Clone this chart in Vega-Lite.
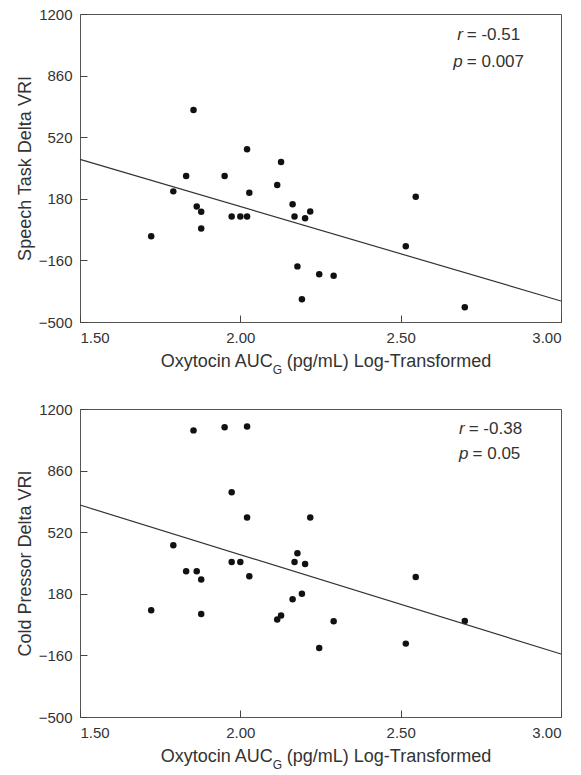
{
  "$schema": "https://vega.github.io/schema/vega-lite/v6.json",
  "background": "white",
  "padding": {"left": 15, "top": 6, "right": 5, "bottom": 5},
  "config": {
    "font": "Liberation Sans",
    "view": {"stroke": "#555", "strokeWidth": 1},
    "axis": {
      "grid": false, "domain": false, "tickSize": -7, "tickColor": "#444", "tickWidth": 1,
      "labelFontSize": 15, "labelColor": "#333", "labelFont": "Liberation Sans",
      "titleFontSize": 18, "titleFontWeight": "normal", "titleColor": "#333", "titleFont": "Liberation Sans"
    },
    "concat": {"spacing": 24}
  },
  "datasets": {
    "speech": [
      {"oxytocin": 1.722, "vri": -27}, {"oxytocin": 1.791, "vri": 221}, {"oxytocin": 1.831, "vri": 306},
      {"oxytocin": 1.854, "vri": 670}, {"oxytocin": 1.864, "vri": 138}, {"oxytocin": 1.878, "vri": 108},
      {"oxytocin": 1.878, "vri": 16}, {"oxytocin": 1.951, "vri": 306}, {"oxytocin": 1.973, "vri": 82},
      {"oxytocin": 2.0, "vri": 82}, {"oxytocin": 2.021, "vri": 82}, {"oxytocin": 2.021, "vri": 454},
      {"oxytocin": 2.028, "vri": 213}, {"oxytocin": 2.115, "vri": 256}, {"oxytocin": 2.127, "vri": 383},
      {"oxytocin": 2.163, "vri": 150}, {"oxytocin": 2.169, "vri": 82}, {"oxytocin": 2.202, "vri": 73},
      {"oxytocin": 2.218, "vri": 110}, {"oxytocin": 2.178, "vri": -193}, {"oxytocin": 2.246, "vri": -236},
      {"oxytocin": 2.291, "vri": -245}, {"oxytocin": 2.192, "vri": -374}, {"oxytocin": 2.516, "vri": -82},
      {"oxytocin": 2.547, "vri": 191}, {"oxytocin": 2.7, "vri": -419}
    ],
    "cold": [
      {"oxytocin": 1.722, "vri": 89}, {"oxytocin": 1.791, "vri": 448}, {"oxytocin": 1.831, "vri": 305},
      {"oxytocin": 1.854, "vri": 1082}, {"oxytocin": 1.864, "vri": 305}, {"oxytocin": 1.878, "vri": 259},
      {"oxytocin": 1.878, "vri": 69}, {"oxytocin": 1.951, "vri": 1099}, {"oxytocin": 1.973, "vri": 741},
      {"oxytocin": 1.973, "vri": 356}, {"oxytocin": 2.0, "vri": 356}, {"oxytocin": 2.021, "vri": 1104},
      {"oxytocin": 2.021, "vri": 601}, {"oxytocin": 2.028, "vri": 277}, {"oxytocin": 2.115, "vri": 38},
      {"oxytocin": 2.127, "vri": 60}, {"oxytocin": 2.163, "vri": 150}, {"oxytocin": 2.169, "vri": 356},
      {"oxytocin": 2.178, "vri": 404}, {"oxytocin": 2.192, "vri": 180}, {"oxytocin": 2.202, "vri": 345},
      {"oxytocin": 2.218, "vri": 601}, {"oxytocin": 2.246, "vri": -119}, {"oxytocin": 2.291, "vri": 28},
      {"oxytocin": 2.516, "vri": -95}, {"oxytocin": 2.547, "vri": 273}, {"oxytocin": 2.7, "vri": 30}
    ],
    "speechFit": [{"oxytocin": 1.5, "vri": 398}, {"oxytocin": 3.0, "vri": -384}],
    "coldFit": [{"oxytocin": 1.5, "vri": 670}, {"oxytocin": 3.0, "vri": -152}],
    "speechStats": [{"sym": "r", "rest": "= -0.51"}, {"sym": "p", "rest": "= 0.007"}],
    "coldStats": [{"sym": "r", "rest": "= -0.38"}, {"sym": "p", "rest": "= 0.05"}],
    "sub": [{"sub": "G"}]
  },
  "vconcat": [
    {
      "width": 481,
      "height": 308,
      "layer": [
        {
          "data": {"name": "speech"},
          "mark": {"type": "circle", "size": 42, "color": "#111", "opacity": 1},
          "encoding": {
            "x": {"field": "oxytocin", "type": "quantitative",
              "scale": {"domain": [1.5, 3], "nice": false, "zero": false},
              "axis": {"values": [1.5, 2, 2.5, 3], "format": ".2f", "title": "Oxytocin AUC\u2002 (pg/mL) Log-Transformed", "labelPadding": 15, "titlePadding": 7, "titleX": 245.5}},
            "y": {"field": "vri", "type": "quantitative",
              "scale": {"domain": [-500, 1200], "nice": false, "zero": false},
              "axis": {"values": [-500, -160, 180, 520, 860, 1200], "format": "d", "title": "Speech Task Delta VRI", "labelPadding": 15, "titlePadding": 4}}
          }
        },
        {
          "data": {"name": "speechFit"},
          "mark": {"type": "line", "color": "#333", "strokeWidth": 1.2},
          "encoding": {
            "x": {"field": "oxytocin", "type": "quantitative"},
            "y": {"field": "vri", "type": "quantitative"}
          }
        },
        {
          "data": {"name": "speechStats"},
          "transform": [{"filter": "datum.sym === 'r'"}],
          "layer": [
            {"mark": {"type": "text", "align": "right", "baseline": "middle", "fontSize": 17, "fontStyle": "italic", "color": "#333", "dx": -2},
             "encoding": {"x": {"datum": 2.7}, "y": {"datum": 1084}, "text": {"field": "sym"}}},
            {"mark": {"type": "text", "align": "left", "baseline": "middle", "fontSize": 17, "color": "#333", "dx": 2},
             "encoding": {"x": {"datum": 2.7}, "y": {"datum": 1084}, "text": {"field": "rest"}}}
          ]
        },
        {
          "data": {"name": "speechStats"},
          "transform": [{"filter": "datum.sym === 'p'"}],
          "layer": [
            {"mark": {"type": "text", "align": "right", "baseline": "middle", "fontSize": 17, "fontStyle": "italic", "color": "#333", "dx": -2},
             "encoding": {"x": {"datum": 2.7}, "y": {"datum": 935}, "text": {"field": "sym"}}},
            {"mark": {"type": "text", "align": "left", "baseline": "middle", "fontSize": 17, "color": "#333", "dx": 2},
             "encoding": {"x": {"datum": 2.7}, "y": {"datum": 935}, "text": {"field": "rest"}}}
          ]
        },
        {
          "data": {"name": "sub"},
          "mark": {"type": "text", "align": "center", "baseline": "middle", "fontSize": 12, "color": "#333", "clip": false},
          "encoding": {"x": {"datum": 2.116}, "y": {"datum": -765}, "text": {"field": "sub"}}
        }
      ]
    },
    {
      "width": 481,
      "height": 308,
      "layer": [
        {
          "data": {"name": "cold"},
          "mark": {"type": "circle", "size": 42, "color": "#111", "opacity": 1},
          "encoding": {
            "x": {"field": "oxytocin", "type": "quantitative",
              "scale": {"domain": [1.5, 3], "nice": false, "zero": false},
              "axis": {"values": [1.5, 2, 2.5, 3], "format": ".2f", "title": "Oxytocin AUC\u2002 (pg/mL) Log-Transformed", "labelPadding": 15, "titlePadding": 7, "titleX": 245.5}},
            "y": {"field": "vri", "type": "quantitative",
              "scale": {"domain": [-500, 1200], "nice": false, "zero": false},
              "axis": {"values": [-500, -160, 180, 520, 860, 1200], "format": "d", "title": "Cold Pressor Delta VRI", "labelPadding": 15, "titlePadding": 4}}
          }
        },
        {
          "data": {"name": "coldFit"},
          "mark": {"type": "line", "color": "#333", "strokeWidth": 1.2},
          "encoding": {
            "x": {"field": "oxytocin", "type": "quantitative"},
            "y": {"field": "vri", "type": "quantitative"}
          }
        },
        {
          "data": {"name": "coldStats"},
          "transform": [{"filter": "datum.sym === 'r'"}],
          "layer": [
            {"mark": {"type": "text", "align": "right", "baseline": "middle", "fontSize": 17, "fontStyle": "italic", "color": "#333", "dx": -2},
             "encoding": {"x": {"datum": 2.706}, "y": {"datum": 1089}, "text": {"field": "sym"}}},
            {"mark": {"type": "text", "align": "left", "baseline": "middle", "fontSize": 17, "color": "#333", "dx": 2},
             "encoding": {"x": {"datum": 2.706}, "y": {"datum": 1089}, "text": {"field": "rest"}}}
          ]
        },
        {
          "data": {"name": "coldStats"},
          "transform": [{"filter": "datum.sym === 'p'"}],
          "layer": [
            {"mark": {"type": "text", "align": "right", "baseline": "middle", "fontSize": 17, "fontStyle": "italic", "color": "#333", "dx": -2},
             "encoding": {"x": {"datum": 2.718}, "y": {"datum": 949}, "text": {"field": "sym"}}},
            {"mark": {"type": "text", "align": "left", "baseline": "middle", "fontSize": 17, "color": "#333", "dx": 2},
             "encoding": {"x": {"datum": 2.718}, "y": {"datum": 949}, "text": {"field": "rest"}}}
          ]
        },
        {
          "data": {"name": "sub"},
          "mark": {"type": "text", "align": "center", "baseline": "middle", "fontSize": 12, "color": "#333", "clip": false},
          "encoding": {"x": {"datum": 2.116}, "y": {"datum": -765}, "text": {"field": "sub"}}
        }
      ]
    }
  ]
}
